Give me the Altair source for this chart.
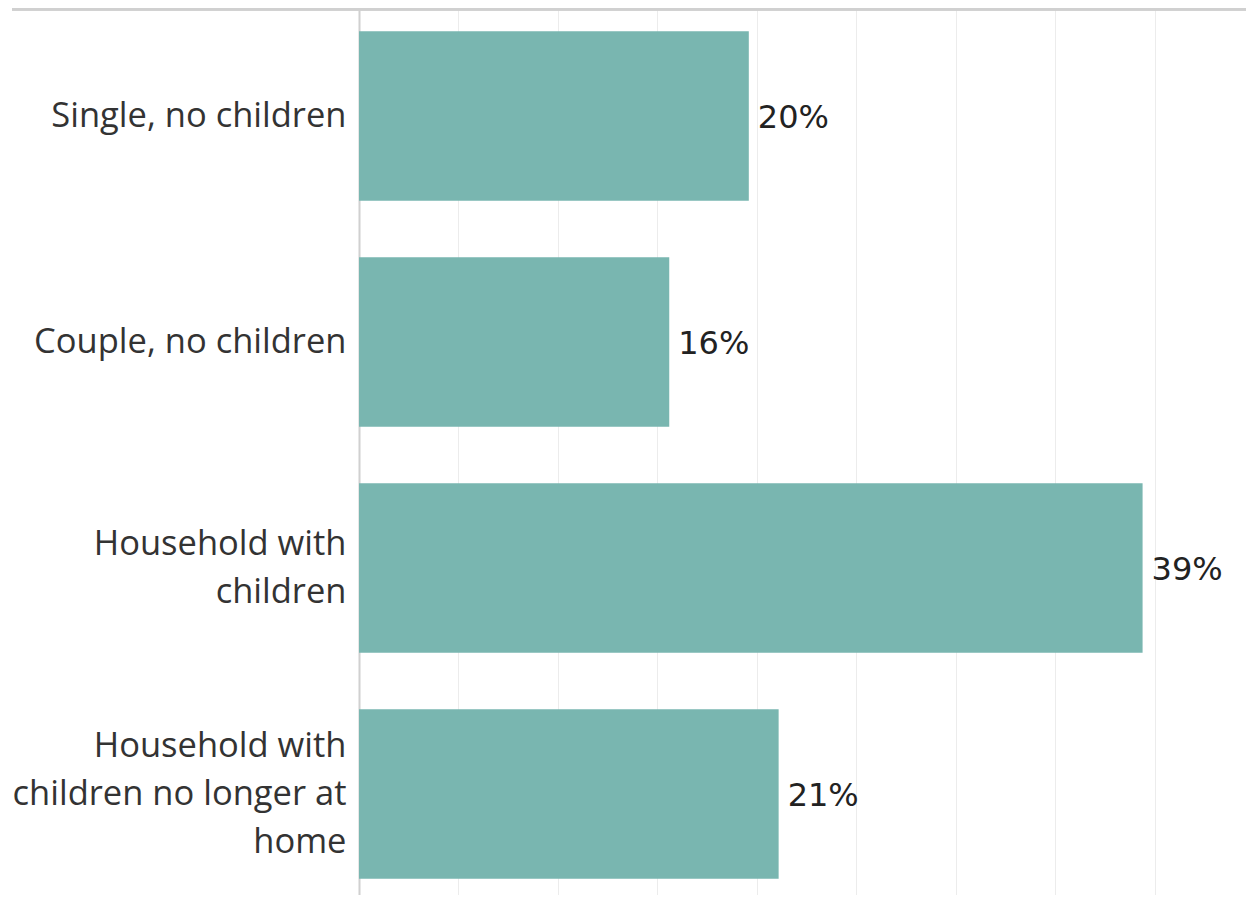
import altair as alt
import pandas as pd

categories = [
    "Single, no children",
    "Couple, no children",
    "Household with|children",
    "Household with|children no longer at|home",
]
values = [19.6, 15.6, 39.4, 21.1]
value_labels = ["20%", "16%", "39%", "21%"]

df = pd.DataFrame({"category": categories, "value": values, "label": value_labels})

PLOT_W = 887
PLOT_H = 887

y_enc = alt.Y(
    "category:N",
    sort=categories,
    scale=alt.Scale(domain=categories, range=[-5, 899], paddingInner=0.25, paddingOuter=0.125),
    axis=alt.Axis(
        title=None,
        labelExpr="split(datum.value, '|')",
        labelFont="Open Sans",
        labelFontSize=34.5,
        labelColor="#333333",
        labelLineHeight=48,
        labelPadding=13,
        labelLimit=0,
        labelOffset={"expr": "1 - 24 * (length(split(datum.value, '|')) - 1)"},
        ticks=False,
        domain=True,
        domainColor="#d0d0d0",
        domainWidth=2,
        grid=False,
    ),
)

x_enc = alt.X(
    "value:Q",
    scale=alt.Scale(domain=[0, 44.6], nice=False, zero=True),
    axis=alt.Axis(
        title=None,
        values=[0, 5, 10, 15, 20, 25, 30, 35, 40],
        labels=False,
        ticks=False,
        domain=False,
        grid=True,
        gridColor="#ececec",
        gridWidth=1,
    ),
)

bars = alt.Chart(df).mark_bar(color="#79b6b0").encode(x=x_enc, y=y_enc)

text = alt.Chart(df).mark_text(
    align="left", baseline="middle", dx=9, dy=2, font="DejaVu Sans", fontSize=32, color="#222222"
).encode(x=alt.X("value:Q"), y=alt.Y("category:N", sort=categories), text="label:N")

top_line = alt.Chart(df).mark_rule(color="#d0d0d0", strokeWidth=3).encode(
    x=alt.value(-347), x2=alt.value(PLOT_W), y=alt.value(1)
)

chart = (
    alt.layer(bars, text, top_line)
    .properties(
        width=PLOT_W,
        height=PLOT_H,
        autosize=alt.AutoSizeParams(type="none"),
        padding={"left": 351, "top": 0, "right": 0, "bottom": 0},
        background="white",
    )
    .configure_view(stroke=None)
)

chart.save("out.html", embed_options={"renderer": "svg", "actions": False})
